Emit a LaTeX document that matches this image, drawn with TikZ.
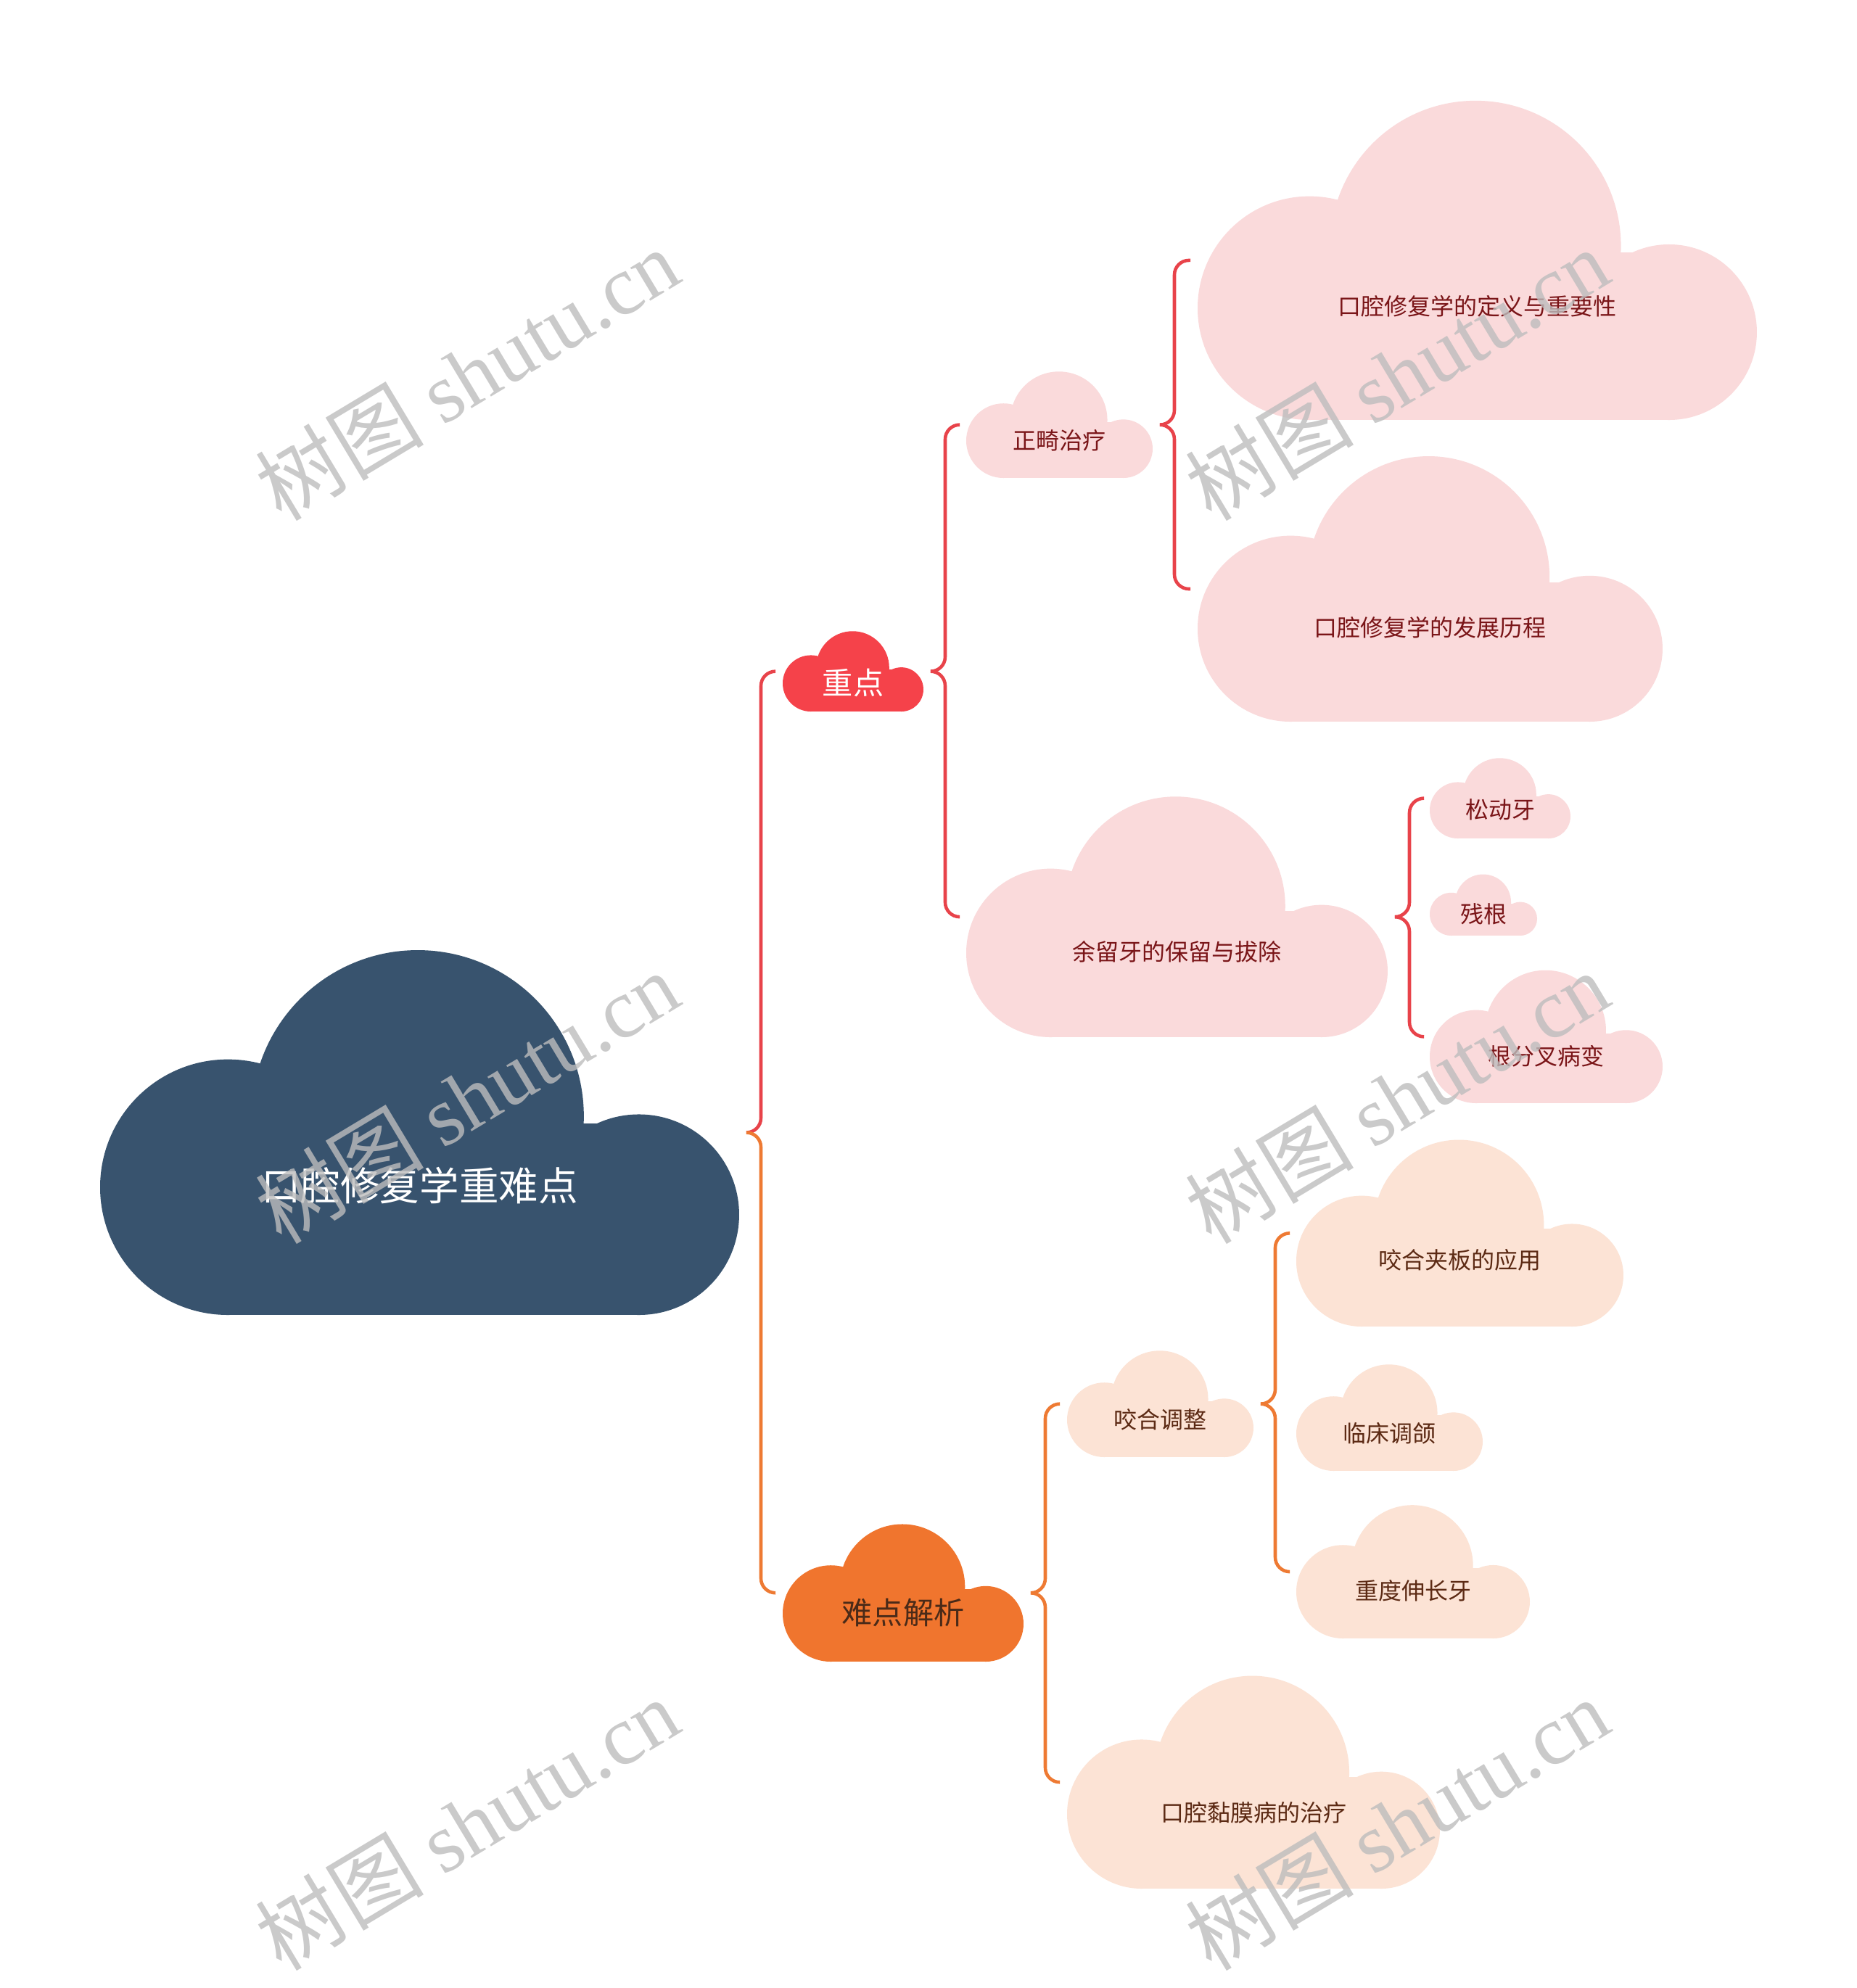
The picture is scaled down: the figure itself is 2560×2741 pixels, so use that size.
\documentclass[tikz,border=0pt]{standalone}
\usepackage{fontspec}
\setmainfont{Noto Sans CJK SC}
\newfontfamily\wmserif{Liberation Serif}
\usepackage{xcolor}
\usetikzlibrary{calc}

\definecolor{rootblue}{HTML}{38536E}
\definecolor{keyred}{HTML}{F5424A}
\definecolor{hardorange}{HTML}{F0752E}
\definecolor{pinkfill}{HTML}{FADADB}
\definecolor{pinkink}{HTML}{7A1518}
\definecolor{peachfill}{HTML}{FCE3D5}
\definecolor{peachink}{HTML}{5C2A14}
\definecolor{hardink}{HTML}{4A2A18}
\definecolor{redline}{HTML}{E8434A}
\definecolor{orangeline}{HTML}{EE7A33}
\definecolor{wmgray}{HTML}{BDBDBD}

% cloud: name, left x, bottom y, width, fill, text style, text
\newcommand{\cloudnode}[7]{%
  \begin{scope}[shift={(#2,#3)}, scale=#4]
    \fill[#5] (0.2,-0.2) circle (0.2);
    \fill[#5] (0.843,-0.157) circle (0.157);
    \fill[#5] (0.497,-0.311) circle (0.26);
    \fill[#5] (0.2,0) rectangle (0.843,-0.3);
    \coordinate (#1-w) at (0,-0.2855);
    \coordinate (#1-e) at (1,-0.2855);
    \node[#6] (#1) at (0.5,-0.203) {#7};
  \end{scope}%
}

\begin{document}
\begin{tikzpicture}[x=0.01cm, y=-0.01cm]

% Define styles for text and brackets
\tikzstyle{roottext} = [text=white, font=\fontsize{15.5pt}{18pt}\selectfont]
\tikzstyle{keytext} = [text=white, font=\fontsize{12pt}{14pt}\selectfont]
\tikzstyle{hardtext} = [text=hardink, font=\fontsize{12pt}{14pt}\selectfont]
\tikzstyle{pinktext} = [text=pinkink, font=\fontsize{9.1pt}{11pt}\selectfont]
\tikzstyle{peachtext} = [text=peachink, font=\fontsize{9.1pt}{11pt}\selectfont]
\tikzstyle{redbrace} = [draw=redline, line width=1.3pt, rounded corners=0.2cm]
\tikzstyle{orangebrace} = [draw=orangeline, line width=1.3pt, rounded corners=0.2cm]
\tikzstyle{watermark} = [rotate=31, text=wmgray, opacity=0.8, font=\fontsize{33pt}{36pt}\selectfont]

% Page
\fill[white] (0,0) rectangle (2560,2741);
\useasboundingbox (0,0) rectangle (2560,2741);

% Root
\cloudnode{root}{138}{1813}{881}{rootblue}{roottext}{口腔修复学重难点}

% First level
\cloudnode{zd}{1079}{981}{194}{keyred}{keytext}{重点}
\cloudnode{nd}{1079}{2291}{332}{hardorange}{hardtext}{难点解析}

% Red branch
\cloudnode{zj}{1332}{659}{257}{pinkfill}{pinktext}{正畸治疗}
\cloudnode{yl}{1332}{1430}{581}{pinkfill}{pinktext}{余留牙的保留与拔除}
\cloudnode{dy}{1651}{579}{771}{pinkfill}{pinktext}{口腔修复学的定义与重要性}
\cloudnode{fz}{1651}{995}{641}{pinkfill}{pinktext}{口腔修复学的发展历程}
\cloudnode{sd}{1971}{1156}{194}{pinkfill}{pinktext}{松动牙}
\cloudnode{cg}{1971}{1290}{148}{pinkfill}{pinktext}{残根}
\cloudnode{gf}{1971}{1521}{321}{pinkfill}{pinktext}{根分叉病变}

% Orange branch
\cloudnode{yt}{1471}{2009}{257}{peachfill}{peachtext}{咬合调整}
\cloudnode{nm}{1471}{2604}{514}{peachfill}{peachtext}{口腔黏膜病的治疗}
\cloudnode{jb}{1787}{1829}{451}{peachfill}{peachtext}{咬合夹板的应用}
\cloudnode{lc}{1787}{2028}{257}{peachfill}{peachtext}{临床调颌}
\cloudnode{zs}{1787}{2259}{322}{peachfill}{peachtext}{重度伸长牙}

% Bracket tips and spines
\foreach \p in {root,zd,zj,yl,nd,yt} {
  \coordinate (\p-t) at ($(\p-e)+(10,0)$);
  \coordinate (\p-v) at ($(\p-e)+(30,0)$);
}

% Root brackets
\draw[redbrace] ($(zd-w)+(-10,0)$) -- (root-v |- zd-w) -- (root-v) -- (root-t);
\draw[orangebrace] ($(nd-w)+(-10,0)$) -- (root-v |- nd-w) -- (root-v) -- (root-t);

% Red brackets
\draw[redbrace] ($(zj-w)+(-10,0)$) -- (zd-v |- zj-w) -- (zd-v) -- (zd-t);
\draw[redbrace] ($(yl-w)+(-10,0)$) -- (zd-v |- yl-w) -- (zd-v) -- (zd-t);
\draw[redbrace] ($(dy-w)+(-10,0)$) -- (zj-v |- dy-w) -- (zj-v) -- (zj-t);
\draw[redbrace] ($(fz-w)+(-10,0)$) -- (zj-v |- fz-w) -- (zj-v) -- (zj-t);
\draw[redbrace] ($(sd-w)+(-10,0)$) -- (yl-v |- sd-w) -- (yl-v) -- (yl-t);
\draw[redbrace] ($(gf-w)+(-10,0)$) -- (yl-v |- gf-w) -- (yl-v) -- (yl-t);

% Orange brackets
\draw[orangebrace] ($(yt-w)+(-10,0)$) -- (nd-v |- yt-w) -- (nd-v) -- (nd-t);
\draw[orangebrace] ($(nm-w)+(-10,0)$) -- (nd-v |- nm-w) -- (nd-v) -- (nd-t);
\draw[orangebrace] ($(jb-w)+(-10,0)$) -- (yt-v |- jb-w) -- (yt-v) -- (yt-t);
\draw[orangebrace] ($(zs-w)+(-10,0)$) -- (yt-v |- zs-w) -- (yt-v) -- (yt-t);

% Watermarks
\foreach \x/\y [count=\i] in {644/516, 1926/516, 644/1513, 1926/1513, 644/2515, 1926/2515} {
  \node[watermark] (wm\i) at (\x,\y) {树图 {\wmserif shutu.cn}};
}

\end{tikzpicture}
\end{document}
